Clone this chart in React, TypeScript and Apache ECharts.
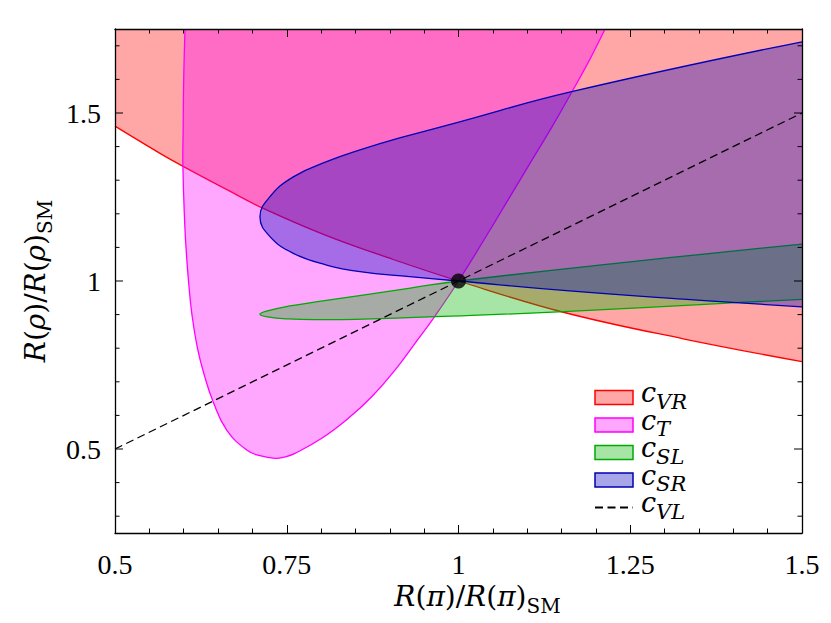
import React, { useEffect, useRef } from "react";
import * as echarts from "echarts";

// ---- axis ranges and tick labels ----
const X_MIN = 0.5;
const X_MAX = 1.5;
const Y_MIN = 0.25;
const Y_MAX = 1.75;
const xMajorStep = 0.25;
const yTickLabels = ["0.5", "1", "1.5"];
const yMinorTicks = [0.3, 0.4, 0.6, 0.7, 0.8, 0.9, 1.1, 1.2, 1.3, 1.4, 1.6, 1.7];

// ---- series names / legend subscripts ----
const seriesNames = ["cVR", "cT", "cSL", "cSR", "cVL"];
const legendSubs = ["VR", "T", "SL", "SR", "VL"];

// ---- c_VR : lower boundary (region above it) ----
const cVR = [
  [0.5, 1.461], [0.5655, 1.38], [0.5985, 1.342], [0.66, 1.275], [0.7159, 1.216],
  [0.808, 1.135], [0.905, 1.064], [1.0, 1.0], [1.1526, 0.907], [1.327, 0.828], [1.5, 0.76],
];

// ---- c_T : contour (left branch top -> bottom -> right branch top) ----
const cT = [
  [0.6019, 1.75], [0.6, 1.6], [0.5992, 1.45], [0.5988, 1.345], [0.6015, 1.17],
  [0.604, 1.08], [0.607, 1.0], [0.612, 0.9], [0.62, 0.8], [0.63, 0.72], [0.643, 0.64],
  [0.6626, 0.5565], [0.6917, 0.497], [0.711, 0.48], [0.7329, 0.4722], [0.7475, 0.4765],
  [0.762, 0.487], [0.8009, 0.5318], [0.8396, 0.5914], [0.8737, 0.6557], [0.9076, 0.735],
  [0.9367, 0.8146], [0.9658, 0.8958], [1.0, 1.0], [1.05, 1.166], [1.099, 1.333],
  [1.135, 1.455], [1.1647, 1.5616], [1.19, 1.655], [1.2133, 1.75],
];

// ---- c_SL : upper branch (right -> tip) then lower branch (tip -> right) ----
const cSL = [
  [1.5, 1.11], [1.25, 1.057], [1.0, 1.0], [0.93, 0.979], [0.861, 0.958], [0.8, 0.94],
  [0.7523, 0.925], [0.722, 0.911], [0.711, 0.901], [0.722, 0.893], [0.7523, 0.887],
  [0.8, 0.885], [0.85, 0.886], [0.9658, 0.8937], [1.1526, 0.9087], [1.3855, 0.9336],
  [1.5, 0.9455],
];

// ---- c_SR : upper branch (right -> tip) then lower branch (tip -> right) ----
const cSR = [
  [1.5, 1.712], [1.1647, 1.5634], [0.995, 1.47], [0.913, 1.425], [0.8566, 1.39],
  [0.808, 1.355], [0.7595, 1.31], [0.7256, 1.251], [0.711, 1.191], [0.7256, 1.132],
  [0.7595, 1.0823], [0.808, 1.0476], [0.8566, 1.0278], [0.929, 1.013], [1.0, 1.0],
  [1.1526, 0.972], [1.327, 0.946], [1.5, 0.923],
];

// ---- c_VL : line ----
const cVL = [[0.5, 0.5], [1.5, 1.5]];

// ---- SM point ----
const smPoint = [[1, 1]];

const FONT = "Liberation Serif";
const TFONT = "DejaVu Serif";

const styles = [
  { stroke: "#ff0000", fill: "rgba(255,0,0,0.35)" },
  { stroke: "#ff00ff", fill: "rgba(255,0,255,0.35)" },
  { stroke: "#00aa00", fill: "rgba(0,180,0,0.35)" },
  { stroke: "#0000b4", fill: "rgba(0,0,190,0.35)" },
];

// closed contour whose two ends lie on a frame edge: the fill closes along that edge
function contourSeries(name: string, pts: number[][], st: any, z: number) {
  return {
    type: "custom",
    name,
    coordinateSystem: "cartesian2d",
    z,
    silent: true,
    data: pts,
    encode: { x: 0, y: 1 },
    itemStyle: { color: st.fill, borderColor: st.stroke },
    renderItem: (params: any, api: any) => {
      if (params.dataIndex !== 0) return null;
      const curve = pts.map((p) => api.coord(p));
      return {
        type: "polyline",
        shape: { points: curve, smooth: 0.45 },
        style: { fill: st.fill, stroke: st.stroke, lineWidth: 1.3 },
      };
    },
  };
}

const richTitle = {
  i: { fontFamily: TFONT, fontSize: 28, fontStyle: "italic", color: "#000", lineHeight: 30 },
  n: { fontFamily: TFONT, fontSize: 28, color: "#000", lineHeight: 30 },
  s: { fontFamily: TFONT, fontSize: 20, color: "#000", lineHeight: 30, height: 11, verticalAlign: "bottom" },
};

export default function App() {
  const ref = useRef<HTMLDivElement>(null);
  useEffect(() => {
    document.body.style.margin = "0";
    const chart = echarts.init(ref.current!, null, { renderer: "svg" });
    const yTickData = [
      ...yTickLabels.map((l) => [X_MIN, parseFloat(l), 1]),
      ...yMinorTicks.map((v) => [X_MIN, v, 0]),
    ];
    const axisCommon = {
      axisLine: { show: true, onZero: false, lineStyle: { color: "#000", width: 1.3 } },
      splitLine: { show: false },
      z: 10,
    };
    const xTick = {
      axisTick: { show: true, inside: true, length: 8, lineStyle: { color: "#000", width: 1 } },
      minorTick: { show: true, splitNumber: 5, length: 4.5, lineStyle: { color: "#000", width: 1 } },
    };
    const legendRect = (k: number) => ({
      name: seriesNames[k],
      icon: "rect",
      itemStyle: { color: styles[k].fill, borderColor: styles[k].stroke, borderWidth: 1.5 },
    });
    const option: any = {
      animation: false,
      backgroundColor: "#fff",
      grid: { left: 115, right: 29, top: 29, bottom: 90, containLabel: false },
      xAxis: [
        {
          type: "value",
          min: X_MIN,
          max: X_MAX,
          interval: xMajorStep,
          position: "bottom",
          ...axisCommon,
          ...xTick,
          axisLabel: { fontFamily: FONT, fontSize: 28, color: "#000", margin: 17 },
          name: "{i|R}{n|(}{i|π}{n|)/}{i|R}{n|(}{i|π}{n|)}{s|SM}",
          nameLocation: "middle",
          nameGap: 48,
          nameTextStyle: {
            fontFamily: TFONT, fontSize: 28, color: "#000", rich: richTitle,
            padding: [0, 0, 0, 38],
          },
        },
        {
          type: "value",
          min: X_MIN,
          max: X_MAX,
          interval: xMajorStep,
          position: "top",
          ...axisCommon,
          ...xTick,
          axisLabel: { show: false },
        },
      ],
      yAxis: [
        {
          type: "value",
          min: Y_MIN,
          max: Y_MAX,
          interval: 0.05,
          position: "left",
          ...axisCommon,
          axisTick: { show: false },
          axisLabel: {
            fontFamily: FONT,
            fontSize: 28,
            color: "#000",
            margin: 14,
            formatter: (v: number) => {
              const l = yTickLabels.find((s) => Math.abs(parseFloat(s) - v) < 1e-6);
              return l ?? "";
            },
          },
          name: "{i|R}{n|(}{i|ρ}{n|)/}{i|R}{n|(}{i|ρ}{n|)}{s|SM}",
          nameLocation: "middle",
          nameRotate: 90,
          nameGap: 64,
          nameTextStyle: { fontFamily: TFONT, fontSize: 28, color: "#000", rich: richTitle },
        },
        {
          type: "value",
          min: Y_MIN,
          max: Y_MAX,
          interval: 0.05,
          position: "right",
          ...axisCommon,
          axisTick: { show: false },
          axisLabel: { show: false },
        },
      ],
      legend: {
        orient: "vertical",
        left: 589,
        top: 374,
        itemWidth: 38,
        itemHeight: 14,
        itemGap: -6,
        selectedMode: false,
        data: [
          legendRect(0),
          legendRect(1),
          legendRect(2),
          legendRect(3),
          { name: seriesNames[4], itemStyle: { color: "rgba(0,0,0,0)", borderWidth: 0 } },
        ],
        formatter: (name: string) => {
          const i = seriesNames.indexOf(name);
          return `{c|c}{s|${legendSubs[i]}}`;
        },
        textStyle: {
          rich: {
            c: {
              fontFamily: TFONT, fontSize: 27, fontStyle: "italic", color: "#000",
              padding: [0, 0, 0, 3], lineHeight: 30, height: 20, verticalAlign: "top",
            },
            s: {
              fontFamily: TFONT, fontSize: 21, fontStyle: "italic", color: "#000",
              lineHeight: 30, height: 22, verticalAlign: "bottom",
            },
          },
        },
      },
      series: [
        {
          type: "line",
          name: seriesNames[0],
          data: cVR,
          smooth: 0.4,
          symbol: "none",
          z: 2,
          silent: true,
          lineStyle: { color: styles[0].stroke, width: 1.3 },
          itemStyle: { color: styles[0].stroke },
          areaStyle: { color: styles[0].fill, origin: "end", opacity: 1 },
        },
        contourSeries(seriesNames[1], cT, styles[1], 3),
        contourSeries(seriesNames[2], cSL, styles[2], 4),
        contourSeries(seriesNames[3], cSR, styles[3], 5),
        {
          type: "line",
          name: seriesNames[4],
          data: cVL,
          symbol: "none",
          z: 6,
          silent: true,
          lineStyle: { color: "#000", width: 1.3, type: [8, 4.5] },
          itemStyle: { color: "#000" },
        },
        {
          type: "scatter",
          name: "SM",
          data: smPoint,
          symbolSize: 15,
          z: 7,
          silent: true,
          itemStyle: { color: "#000" },
        },
        {
          type: "custom",
          name: "yticks",
          coordinateSystem: "cartesian2d",
          z: 11,
          silent: true,
          data: yTickData,
          encode: { x: 0, y: 1 },
          renderItem: (params: any, api: any) => {
            const v = api.value(1);
            const len = api.value(2) ? 8 : 4.5;
            const l = api.coord([X_MIN, v]);
            const r = api.coord([X_MAX, v]);
            return {
              type: "group",
              children: [
                { type: "line", shape: { x1: l[0], y1: l[1], x2: l[0] + len, y2: l[1] }, style: { stroke: "#000", lineWidth: 1 } },
                { type: "line", shape: { x1: r[0], y1: r[1], x2: r[0] - len, y2: r[1] }, style: { stroke: "#000", lineWidth: 1 } },
              ],
            };
          },
        },
      ],
    };
    chart.setOption(option);
    return () => chart.dispose();
  }, []);
  return (
    <div
      ref={ref}
      style={{ position: "fixed", left: 0, top: 0, width: 831, height: 623, background: "#fff" }}
    />
  );
}
